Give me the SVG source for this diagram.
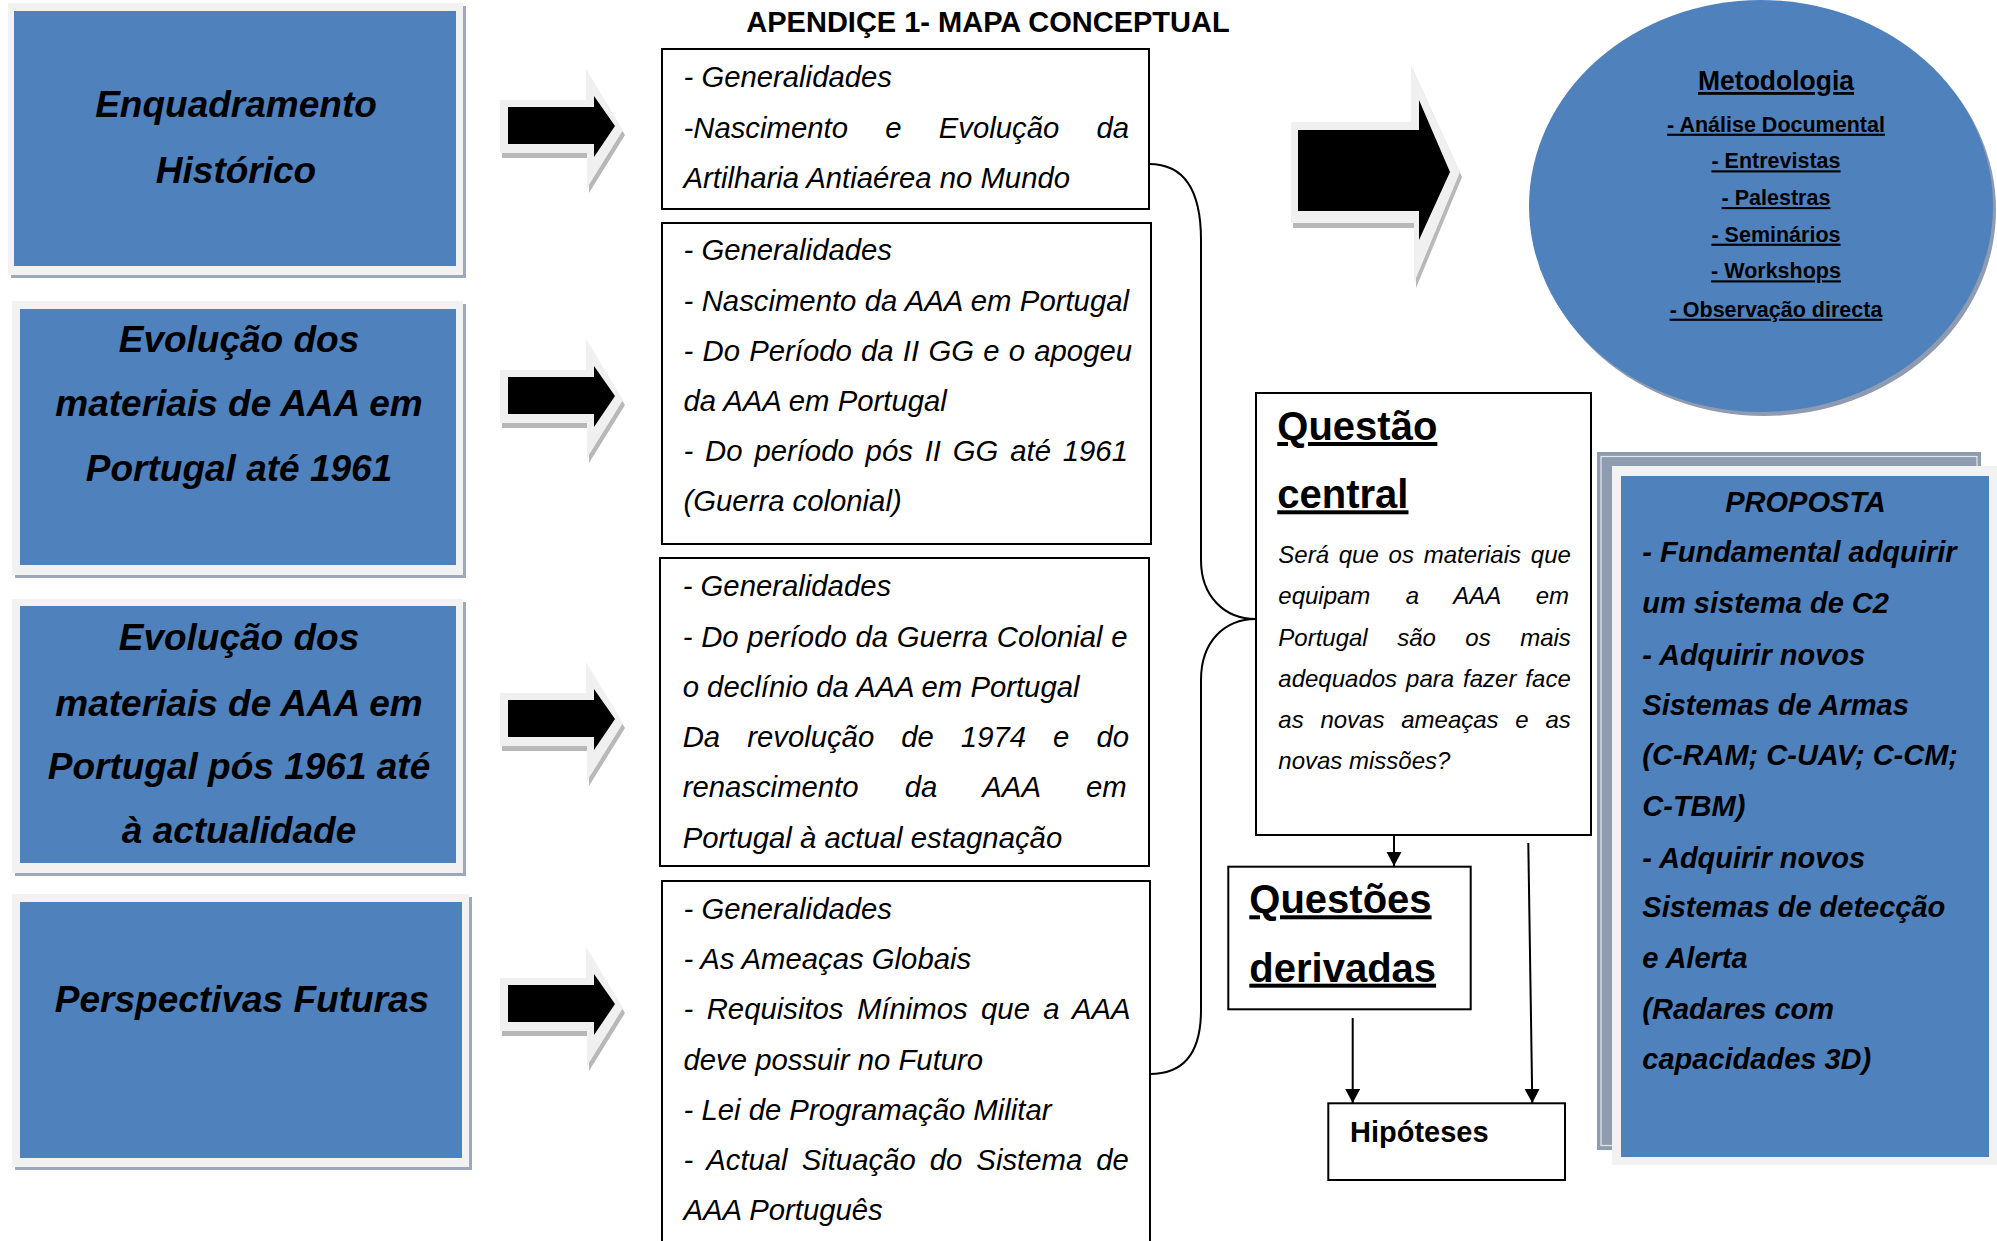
<svg xmlns="http://www.w3.org/2000/svg" width="1997" height="1241" viewBox="0 0 1997 1241">
<style>
.bg{fill:#ffffff}
.shadow{fill:#9ea8b8}
.frame{fill:#f2f2f2}
.blue{fill:#4f81bd}
.tbox{fill:#ffffff;stroke:#000;stroke-width:2}
.ttl{font-family:"Liberation Sans",Arial,sans-serif;font-weight:bold;font-size:37px;font-style:italic;fill:#000;text-anchor:middle}
.it{font-family:"Liberation Sans",Arial,sans-serif;font-style:italic;font-size:29.3px;fill:#000}
.qc{font-family:"Liberation Sans",Arial,sans-serif;font-style:italic;font-size:24px;fill:#000}
.hd{font-family:"Liberation Sans",Arial,sans-serif;font-weight:bold;font-size:40px;fill:#000;text-decoration:underline}
.met{font-family:"Liberation Sans",Arial,sans-serif;font-weight:bold;font-size:21.5px;fill:#000;text-anchor:middle;text-decoration:underline}
.pr{font-family:"Liberation Sans",Arial,sans-serif;font-weight:bold;font-style:italic;font-size:29px;fill:#000}
.conn{fill:none;stroke:#000;stroke-width:2}
.arl{fill:#f0f0f0}
.ars{fill:#b8b8b8}
</style>
<defs>
<marker id="ah" markerUnits="userSpaceOnUse" markerWidth="16" markerHeight="16" refX="14" refY="7.5" orient="auto">
<path d="M0,0 L14,7.5 L0,15 z" fill="#000"/>
</marker>
<g id="smallArrow">
<polygon class="ars" points="502,105 588,105 588,74 625,135 589,193 589,158 502,158"/>
<polygon class="arl" points="500,100 586,100 586,69 623,130 587,188 587,153 500,153"/>
<polygon fill="#000" points="508,107 594,107 594,96 615,126 594,157 594,144 508,144"/>
</g>
</defs>
<rect class="bg" x="0" y="0" width="1997" height="1241"/>

<text x="988" y="32" font-family="Liberation Sans, Arial, sans-serif" font-weight="bold" font-size="29" text-anchor="middle">APENDIÇE 1- MAPA CONCEPTUAL</text>

<g id="node-enquadramento">
<rect class="shadow" x="11" y="6" width="455" height="272"/>
<rect class="frame" x="8" y="3" width="455" height="272"/>
<rect class="blue" x="14" y="11" width="442" height="255"/>
<text class="ttl" x="236" y="117">Enquadramento</text>
<text class="ttl" x="236" y="183">Histórico</text>
</g>

<g id="node-evolucao1961">
<rect class="shadow" x="15" y="304" width="451" height="274"/>
<rect class="frame" x="12" y="301" width="451" height="274"/>
<rect class="blue" x="20" y="309" width="436" height="256"/>
<text class="ttl" x="239" y="352">Evolução dos</text>
<text class="ttl" x="239" y="416">materiais de AAA em</text>
<text class="ttl" x="239" y="481">Portugal até 1961</text>
</g>

<g id="node-evolucaopos1961">
<rect class="shadow" x="15" y="602" width="451" height="274"/>
<rect class="frame" x="12" y="599" width="451" height="274"/>
<rect class="blue" x="20" y="606" width="436" height="257"/>
<text class="ttl" x="239" y="650">Evolução dos</text>
<text class="ttl" x="239" y="716">materiais de AAA em</text>
<text class="ttl" x="239" y="779">Portugal pós 1961 até</text>
<text class="ttl" x="239" y="843">à actualidade</text>
</g>

<g id="node-perspectivas">
<rect class="shadow" x="15" y="897" width="457" height="273"/>
<rect class="frame" x="12" y="894" width="457" height="273"/>
<rect class="blue" x="20" y="902" width="442" height="256"/>
<text class="ttl" x="242" y="1012">Perspectivas Futuras</text>
</g>

<g id="arrows-small">
<use href="#smallArrow"/>
<use href="#smallArrow" transform="translate(0,270)"/>
<use href="#smallArrow" transform="translate(0,593)"/>
<use href="#smallArrow" transform="translate(0,878)"/>
</g>

<g id="node-boxA">
<rect class="tbox" x="662" y="49" width="487" height="160"/>
<text class="it" x="683.5" y="87">- Generalidades</text>
<text class="it" x="683.5" y="137.5" word-spacing="29.1">-Nascimento e Evolução da</text>
<text class="it" x="683.5" y="187.5">Artilharia Antiaérea no Mundo</text>
</g>

<g id="node-boxB">
<rect class="tbox" x="662" y="223" width="489" height="321"/>
<text class="it" x="683.5" y="260">- Generalidades</text>
<text class="it" x="683.5" y="310.5" word-spacing="0.3">- Nascimento da AAA em Portugal</text>
<text class="it" x="683.5" y="360.5" word-spacing="1.1">- Do Período da II GG e o apogeu</text>
<text class="it" x="683.5" y="410.5">da AAA em Portugal</text>
<text class="it" x="683.5" y="460.5" word-spacing="3.7">- Do período pós II GG até 1961</text>
<text class="it" x="683.5" y="510.5">(Guerra colonial)</text>
</g>

<g id="node-boxC">
<rect class="tbox" x="660" y="558" width="489" height="308"/>
<text class="it" x="682.7" y="596">- Generalidades</text>
<text class="it" x="682.7" y="646.5" word-spacing="0.6">- Do período da Guerra Colonial e</text>
<text class="it" x="682.7" y="696.5">o declínio da AAA em Portugal</text>
<text class="it" x="682.7" y="747" word-spacing="18.9">Da revolução de 1974 e do</text>
<text class="it" x="682.7" y="797" word-spacing="38">renascimento da AAA em</text>
<text class="it" x="682.7" y="847.5">Portugal à actual estagnação</text>
</g>

<g id="node-boxD">
<rect class="tbox" x="662" y="881" width="488" height="400"/>
<text class="it" x="683.5" y="919">- Generalidades</text>
<text class="it" x="683.5" y="969">- As Ameaças Globais</text>
<text class="it" x="683.5" y="1019" word-spacing="5.3">- Requisitos Mínimos que a AAA</text>
<text class="it" x="683.5" y="1069.5">deve possuir no Futuro</text>
<text class="it" x="683.5" y="1120">- Lei de Programação Militar</text>
<text class="it" x="683.5" y="1170" word-spacing="5.9">- Actual Situação do Sistema de</text>
<text class="it" x="683.5" y="1220">AAA Português</text>
</g>

<g id="arrow-big">
<polygon class="ars" points="1293,126 1413,126 1413,70 1462,177 1416,288 1416,228 1293,228"/>
<polygon class="arl" points="1291,122 1411,122 1411,65 1460,172 1414,283 1414,223 1291,223"/>
<polygon fill="#000" points="1298,130 1419,130 1419,100 1450,172 1419,240 1419,211 1298,211"/>
</g>

<g id="node-metodologia">
<ellipse cx="1764" cy="210" rx="232" ry="206" fill="#8e9bb0"/>
<ellipse class="blue" cx="1761" cy="206" rx="232" ry="206"/>
<text x="1776" y="90" font-family="Liberation Sans, Arial, sans-serif" font-weight="bold" font-size="28" text-anchor="middle" text-decoration="underline" textLength="156" lengthAdjust="spacingAndGlyphs">Metodologia</text>
<text class="met" x="1776" y="131.7">- Análise Documental</text>
<text class="met" x="1776" y="168.3">- Entrevistas</text>
<text class="met" x="1776" y="205">- Palestras</text>
<text class="met" x="1776" y="241.7">- Seminários</text>
<text class="met" x="1776" y="278.3">- Workshops</text>
<text class="met" x="1776" y="316.7">- Observação directa</text>
</g>

<g id="node-questao-central">
<rect class="tbox" x="1256" y="393" width="335" height="442"/>
<text class="hd" x="1277.3" y="440">Questão</text>
<text class="hd" x="1277.3" y="508.3">central</text>
<text class="qc" x="1278.3" y="563.3" word-spacing="3.1">Será que os materiais que</text>
<text class="qc" x="1278.3" y="604" word-spacing="28.6">equipam a AAA em</text>
<text class="qc" x="1278.3" y="645.7" word-spacing="22.8">Portugal são os mais</text>
<text class="qc" x="1278.3" y="687.3" word-spacing="2.3">adequados para fazer face</text>
<text class="qc" x="1278.3" y="728.3" word-spacing="10.1">as novas ameaças e as</text>
<text class="qc" x="1278.3" y="769.3">novas missões?</text>
</g>

<g id="node-questoes-derivadas">
<rect class="tbox" x="1228.3" y="866.7" width="242.4" height="142.6"/>
<text class="hd" x="1249.3" y="913.3">Questões</text>
<text class="hd" x="1249.3" y="981.7">derivadas</text>
</g>

<g id="node-hipoteses">
<rect class="tbox" x="1328.3" y="1103.3" width="236.7" height="76.7"/>
<text x="1350" y="1141.7" font-family="Liberation Sans, Arial, sans-serif" font-weight="bold" font-size="29">Hipóteses</text>
</g>

<g id="node-proposta">
<rect x="1597" y="452" width="384" height="698" fill="#8f9cb0"/>
<rect x="1601" y="456.5" width="376" height="689" fill="none" stroke="#e3e8ee" stroke-width="1.2"/>
<rect class="frame" x="1612" y="466" width="385" height="699"/>
<rect class="blue" x="1621" y="476" width="368" height="681"/>
<text class="pr" x="1805.5" y="512.4" text-anchor="middle">PROPOSTA</text>
<text class="pr" x="1642.3" y="561.8">- Fundamental adquirir</text>
<text class="pr" x="1642.3" y="613.2">um sistema de C2</text>
<text class="pr" x="1642.3" y="665">- Adquirir novos</text>
<text class="pr" x="1642.3" y="715">Sistemas de Armas</text>
<text class="pr" x="1642.3" y="765.4">(C-RAM; C-UAV; C-CM;</text>
<text class="pr" x="1642.3" y="816.3">C-TBM)</text>
<text class="pr" x="1642.3" y="867.7">- Adquirir novos</text>
<text class="pr" x="1642.3" y="917">Sistemas de detecção</text>
<text class="pr" x="1642.3" y="968">e Alerta</text>
<text class="pr" x="1642.3" y="1019">(Radares com</text>
<text class="pr" x="1642.3" y="1069">capacidades 3D)</text>
</g>

<g id="connectors">
<path class="conn" d="M1149,164 C1186,164 1201,192 1201,240 L1201,560 C1201,596 1224,619 1256,619 C1224,619 1201,642 1201,680 L1201,1010 C1201,1050 1186,1074 1150,1074"/>
<line class="conn" x1="1394" y1="835" x2="1394" y2="866" marker-end="url(#ah)"/>
<line class="conn" x1="1352.7" y1="1018" x2="1352.7" y2="1103" marker-end="url(#ah)"/>
<line class="conn" x1="1528.3" y1="843" x2="1532.3" y2="1103" marker-end="url(#ah)"/>
</g>
</svg>
